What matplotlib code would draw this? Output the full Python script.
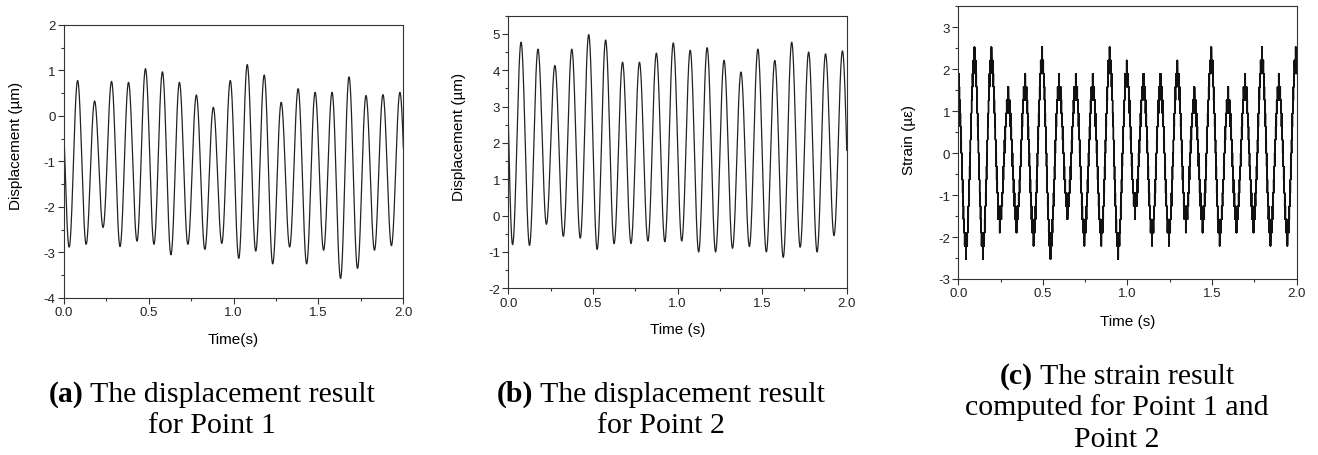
import numpy as np
import matplotlib
matplotlib.use('Agg')
from matplotlib import pyplot as plt
from matplotlib.ticker import MultipleLocator, FormatStrFormatter

plt.rcParams['font.family'] = ['Liberation Sans', 'DejaVu Sans']
plt.rcParams['axes.unicode_minus'] = False

# (a) displacement at point 1: extrema times (s) and values (um)
t_a = [-0.02, 0.03, 0.08, 0.13, 0.18, 0.23, 0.28, 0.33, 0.38, 0.43, 0.48, 0.53, 0.58, 0.63, 0.68,
       0.73, 0.78, 0.83, 0.88, 0.93, 0.98, 1.03, 1.08, 1.13, 1.18, 1.23, 1.28, 1.33, 1.38, 1.43,
       1.48, 1.53, 1.58, 1.63, 1.68, 1.73, 1.78, 1.83, 1.88, 1.93, 1.98, 2.03]
y_a = [0.8, -2.88, 0.78, -2.82, 0.33, -2.45, 0.76, -2.87, 0.74, -2.75, 1.04, -2.82, 0.97, -3.05, 0.74,
       -2.82, 0.46, -2.93, 0.19, -2.80, 0.78, -3.13, 1.13, -2.97, 0.90, -3.25, 0.30, -2.88, 0.60, -3.25,
       0.52, -2.95, 0.52, -3.57, 0.86, -3.35, 0.45, -2.95, 0.47, -2.85, 0.52, -2.9]

# (b) displacement at point 2
t_b = [-0.025, 0.025, 0.075, 0.125, 0.175, 0.225, 0.275, 0.325, 0.375, 0.425, 0.475, 0.525, 0.575,
       0.625, 0.675, 0.725, 0.775, 0.825, 0.875, 0.925, 0.975, 1.025, 1.075, 1.125, 1.175, 1.225,
       1.275, 1.325, 1.375, 1.425, 1.475, 1.525, 1.575, 1.625, 1.675, 1.725, 1.775, 1.825, 1.875,
       1.925, 1.975, 2.025]
y_b = [6.0, -0.80, 4.77, -0.82, 4.58, -0.24, 4.13, -0.57, 4.58, -0.62, 4.98, -0.93, 4.83,
       -0.77, 4.22, -0.77, 4.22, -0.70, 4.47, -0.72, 4.75, -0.70, 4.55, -1.00, 4.62, -1.00,
       4.27, -0.90, 3.95, -0.85, 4.58, -1.00, 4.27, -1.15, 4.77, -0.87, 4.50, -1.00, 4.45,
       -0.55, 4.53, -0.80]

# (c) strain for point 1 and point 2: extreme levels reached (quantised signal)
t_c = [-0.005, 0.045, 0.095, 0.145, 0.195, 0.245, 0.295, 0.345, 0.395, 0.445, 0.495, 0.545, 0.595,
       0.645, 0.695, 0.745, 0.795, 0.845, 0.895, 0.945, 0.995, 1.045, 1.095, 1.145, 1.195, 1.245,
       1.295, 1.345, 1.395, 1.445, 1.495, 1.545, 1.595, 1.645, 1.695, 1.745, 1.795, 1.845, 1.895,
       1.945, 1.995, 2.045]
y_c = [2.2, -2.53, 2.53, -2.53, 2.53, -1.90, 1.58, -1.90, 1.90, -2.21, 2.53, -2.53, 1.90,
       -1.58, 1.90, -2.21, 1.90, -2.21, 2.53, -2.53, 2.21, -1.58, 1.90, -2.21, 1.90, -2.21,
       2.21, -1.90, 1.58, -1.90, 2.53, -2.21, 1.58, -1.90, 1.90, -1.90, 2.53, -2.21, 1.90,
       -2.21, 2.53, -2.2]
strain_step = 0.316  # quantisation step of the strain signal

captions = [
    ('(a)', ' The displacement result', 'for Point 1'),
    ('(b)', ' The displacement result', 'for Point 2'),
    ('(c)', ' The strain result', 'computed for Point 1 and', 'Point 2'),
]

W, H = 1318, 456


def smooth_wave(tk, yk, tt):
    # half-cosine between consecutive extrema
    tk = np.asarray(tk)
    yk = np.asarray(yk)
    i = np.clip(np.searchsorted(tk, tt, side='right') - 1, 0, len(tk) - 2)
    s = (tt - tk[i]) / (tk[i + 1] - tk[i])
    return yk[i] + (yk[i + 1] - yk[i]) * (1 - np.cos(np.pi * s)) / 2


def stepped_wave(tk, yk, q, dt=0.0005):
    # quantised signal that flickers between neighbouring levels near the extremes
    tt = np.arange(tk[0], tk[-1], dt)
    yk = np.asarray(yk)
    sign = np.where(np.arange(len(yk)) % 2 == 0, 1.0, -1.0)
    base = smooth_wave(tk, yk - sign * 0.9 * q, tt)
    flicker = 0.45 * q * np.where(np.arange(len(tt)) % 2 == 0, 1.0, -1.0)
    return tt, np.round((base + flicker) / q) * q


def style_axes(ax):
    ax.tick_params(which='both', direction='out', top=False, right=False, labelsize=9.5,
                   color='#333333', labelcolor='#222222', pad=2)
    ax.tick_params(which='major', length=4, width=0.8)
    ax.tick_params(which='minor', length=2, width=0.8)
    ax.xaxis.set_major_locator(MultipleLocator(0.5))
    ax.xaxis.set_minor_locator(MultipleLocator(0.25))
    ax.yaxis.set_major_locator(MultipleLocator(1))
    ax.yaxis.set_minor_locator(MultipleLocator(0.5))
    ax.xaxis.set_major_formatter(FormatStrFormatter('%.1f'))
    for sp in ax.spines.values():
        sp.set_color('#333333')
        sp.set_linewidth(0.8)
    ax.set_xlim(0, 2.0)


fig = plt.figure(figsize=(W / 100, H / 100), dpi=100)

ax_a = fig.add_axes([0.0486, 0.3443, 0.2574, 0.5987])
ax_b = fig.add_axes([0.3857, 0.3656, 0.2567, 0.5978])
ax_c = fig.add_axes([0.7271, 0.3860, 0.2567, 0.5980])

tt = np.linspace(-0.01, 2.01, 4000)
ax_a.plot(tt, smooth_wave(t_a, y_a, tt), color='#222222', lw=0.9)
style_axes(ax_a)
ax_a.set_ylim(-4, 2)
ax_a.set_ylabel('Displacement (µm)', fontsize=11)
ax_a.set_xlabel('Time(s)', fontsize=11)
ax_a.yaxis.set_label_coords(-0.121, 0.56)
ax_a.xaxis.set_label_coords(0.5, -0.123)

ax_b.plot(tt, smooth_wave(t_b, y_b, tt), color='#222222', lw=0.9)
style_axes(ax_b)
ax_b.set_ylim(-2, 5.5)
ax_b.set_ylabel('Displacement (µm)', fontsize=11)
ax_b.set_xlabel('Time (s)', fontsize=11)
ax_b.yaxis.set_label_coords(-0.125, 0.559)
ax_b.xaxis.set_label_coords(0.5, -0.125)

x, y = stepped_wave(t_c, y_c, strain_step)
ax_c.plot(x, y, color='#111111', lw=0.9, drawstyle='steps-post')
style_axes(ax_c)
ax_c.set_ylim(-3, 3.5)
ax_c.set_ylabel('Strain (µε)', fontsize=11)
ax_c.set_xlabel('Time (s)', fontsize=11)
ax_c.yaxis.set_label_coords(-0.125, 0.513)
ax_c.xaxis.set_label_coords(0.5, -0.127)

# captions below each panel: bold tag + regular text, centred as one line
cap_x = [212, 661, 1117]
cap_base = [402, 402, 384]
line_h = 31.5
cap_font = dict(fontsize=21.5, family='Liberation Serif')
r = fig.canvas.get_renderer()
for cx, cy, cap in zip(cap_x, cap_base, captions):
    t_bold = fig.text(0, 0, cap[0], weight='bold', va='baseline', **cap_font)
    t_rest = fig.text(0, 0, cap[1], va='baseline', **cap_font)
    wb = t_bold.get_window_extent(r).width
    wr = t_rest.get_window_extent(r).width
    x0 = cx - (wb + wr) / 2
    t_bold.set_position((x0 / W, 1 - cy / H))
    t_rest.set_position(((x0 + wb) / W, 1 - cy / H))
    for k, line in enumerate(cap[2:]):
        fig.text(cx / W, 1 - (cy + line_h * (k + 1)) / H, line, ha='center', va='baseline',
                 **cap_font)

fig.savefig('out.png', dpi=100)
